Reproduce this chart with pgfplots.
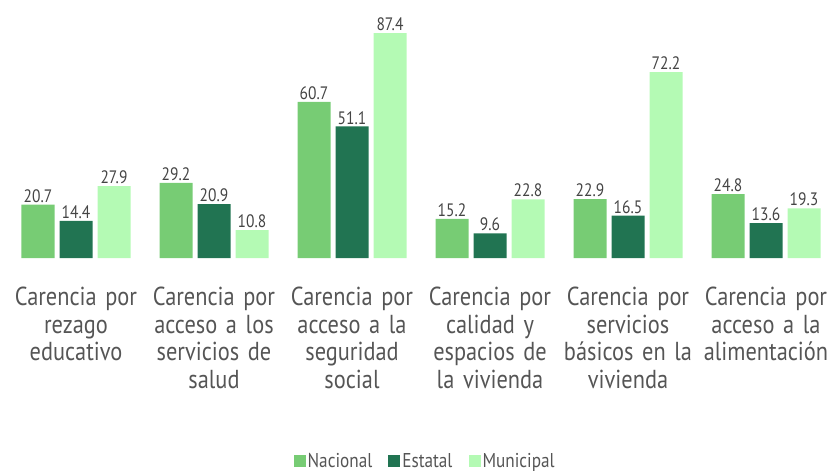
\documentclass[border=0pt]{standalone}
\usepackage{fontspec}
\setmainfont[FakeStretch=0.86]{PT Sans}
\usepackage{pgfplots}
\pgfplotsset{compat=1.18}
\definecolor{nac}{HTML}{77CC74}
\definecolor{est}{HTML}{217452}
\definecolor{mun}{HTML}{B4FAB4}
\definecolor{txt}{HTML}{555555}
\definecolor{num}{HTML}{444444}
\begin{document}
\begin{tikzpicture}
\begin{axis}[
  scale only axis, width=828pt, height=257.4pt,
  xmin=-0.5, xmax=5.5, ymin=0, ymax=100,
  axis line style={draw=none},
  ytick=\empty,
  xtick={0,1,2,3,4,5},
  major tick length=0pt,
  xticklabels={{Carencia por\\rezago\\educativo},{Carencia por\\acceso a los\\servicios de\\salud},{Carencia por\\acceso a la\\seguridad\\social},{Carencia por\\calidad y\\espacios de\\la vivienda},{Carencia por\\servicios\\básicos en la\\vivienda},{Carencia por\\acceso a la\\alimentación}},
  xticklabel style={text width=140pt, align=center, anchor=north, inner sep=0pt, yshift=-29pt,
    font=\fontsize{26}{27.5}\selectfont, text=txt},
  ybar=5pt, bar width=33pt,
  nodes near coords,
  every node near coord/.append style={font=\fontsize{18}{18}\selectfont, text=num, inner sep=2pt},
  nodes near coords align=vertical,
  /pgf/number format/.cd, fixed, fixed zerofill, precision=1, assume math mode=true, /pgfplots/.cd,
  legend columns=3,
  legend style={at={(0.505,-0.79)}, anchor=center, draw=none, fill=none,
    font=\fontsize{20}{20}\selectfont, text=txt, inner sep=1pt,
    /tikz/every even column/.append style={column sep=14pt}},
  legend image code/.code={\fill[#1] (0pt,-6pt) rectangle (12pt,6pt);},
]
\addplot[fill=nac, draw=none] coordinates {(0,20.7) (1,29.2) (2,60.7) (3,15.2) (4,22.9) (5,24.8)};
\addplot[fill=est, draw=none] coordinates {(0,14.4) (1,20.9) (2,51.1) (3,9.6) (4,16.5) (5,13.6)};
\addplot[fill=mun, draw=none] coordinates {(0,27.9) (1,10.8) (2,87.4) (3,22.8) (4,72.2) (5,19.3)};
\legend{Nacional,Estatal,Municipal}
\coordinate (O) at (rel axis cs:0,0);
\end{axis}
\pgfresetboundingbox
\path (O) ++(-7pt,-217pt) rectangle ++(834pt,475pt);
\end{tikzpicture}
\end{document}
